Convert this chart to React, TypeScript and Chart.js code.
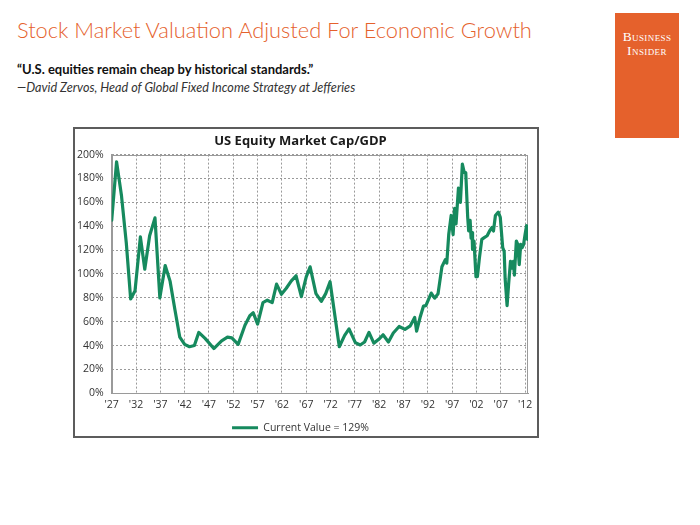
import React, { useEffect, useRef } from "react";
import { Chart, registerables } from "chart.js";

Chart.register(...registerables);

// Year (decimal) of each reading
const years = [
  1927, 1928, 1929, 1930, 1930.9, 1931.8, 1932.9, 1933.8, 1934.8, 1935.9,
  1936.9, 1938, 1939, 1940, 1941, 1942, 1943, 1944, 1944.9, 1946.2,
  1948, 1949.6, 1950.8, 1951.7, 1953, 1954.4, 1955.4, 1956.1, 1957, 1958.1,
  1959, 1960, 1960.9, 1961.9, 1962.9, 1963.9, 1964.9, 1966, 1967, 1967.8,
  1969, 1970.1, 1971, 1971.9, 1973.8, 1974.9, 1975.8, 1977.1, 1978.1, 1979,
  1979.9, 1980.9, 1982.1, 1982.8, 1983.9, 1984.9, 1986.1, 1987.3, 1988.4, 1989.3,
  1989.7, 1990.4, 1991.1, 1991.6, 1992.7, 1993.4, 1994.1, 1994.9, 1995.6, 1995.9,
  1996.3, 1996.8, 1997.2, 1997.5, 1997.8, 1998.3, 1998.7, 1999.1, 1999.5, 1999.8,
  2000.2, 2000.4, 2000.7, 2000.9, 2001.1, 2001.2, 2001.5, 2001.9, 2002.2, 2002.6,
  2003.1, 2003.6, 2004.2, 2004.7, 2005.2, 2005.5, 2005.9, 2006.2, 2006.5, 2006.9,
  2007.4, 2007.7, 2007.9, 2008.3, 2008.6, 2009.0, 2009.3, 2009.6, 2009.8, 2010.2,
  2010.5, 2010.8, 2011.1, 2011.4, 2011.7, 2012.0, 2012.3, 2012.5,
];

// US equity market cap / GDP, percent
const values = [
  145, 194, 166, 126, 79, 86, 131, 104, 132, 147,
  80, 107, 94, 70, 47, 41, 39, 40, 51, 46,
  37.5, 44, 47, 46.5, 41, 57, 65, 67.5, 58, 76,
  78, 76, 91.5, 83, 88, 94, 98.5, 81, 97.5, 106,
  83.5, 77, 83.5, 93.5, 39, 48.5, 54, 42.5, 40.5, 43,
  51, 42, 46, 49, 43, 50.5, 56, 53.5, 56.5, 63.5,
  52, 63.5, 73, 73.5, 84, 79.7, 83.4, 106, 112, 109,
  133, 149, 133, 155, 142, 172, 160, 192, 185, 185,
  147.5, 136, 145, 130, 134.7, 120.5, 127.6, 97.7, 97.7, 113,
  129, 130.4, 132, 136, 139, 136, 149, 150.4, 151.8, 147.5,
  122, 119, 96, 73.5, 90.6, 110.5, 104.8, 110.5, 99, 127.6,
  124.8, 107.7, 124.8, 122, 124.8, 133, 140.4, 129,
];

const tickYears = [
  1927, 1932, 1937, 1942, 1947, 1952, 1957, 1962, 1967, 1972,
  1977, 1982, 1987, 1992, 1997, 2002, 2007, 2012,
];
const yTicks = [0, 20, 40, 60, 80, 100, 120, 140, 160, 180, 200];

const seriesLabel = "Current Value = 129%";
const chartTitle = "US Equity Market Cap/GDP";

const GREEN = "#168A5E";
const ORANGE = "#E5612C";
const GRID = "#9a9a9a";
const FONT = "'Open Sans', 'Noto Sans', sans-serif";

export default function App() {
  const ref = useRef<HTMLCanvasElement>(null);

  useEffect(() => {
    const canvas = ref.current;
    if (!canvas) return;
    const plotBorder = {
      id: "plotBorder",
      beforeDatasetsDraw(chart: any) {
        const { ctx, chartArea: a } = chart;
        ctx.save();
        ctx.strokeStyle = GRID;
        ctx.lineWidth = 1;
        ctx.setLineDash([]);
        ctx.strokeRect(
          Math.round(a.left) + 0.5,
          Math.round(a.top) + 0.5,
          Math.round(a.right - a.left) - 1,
          Math.round(a.bottom - a.top) - 1
        );
        ctx.restore();
      },
    };
    const chart = new Chart(canvas, {
      type: "line",
      data: {
        datasets: [
          {
            label: seriesLabel,
            data: years.map((x, i) => ({ x, y: values[i] })),
            borderColor: GREEN,
            backgroundColor: GREEN,
            borderWidth: 3.2,
            pointRadius: 0,
            tension: 0,
            borderJoinStyle: "round",
            borderCapStyle: "round",
          },
        ],
      },
      options: {
        responsive: false,
        animation: false,
        devicePixelRatio: 1,
        layout: { padding: { left: 0, right: 11, top: 0, bottom: 7 } },
        plugins: {
          title: {
            display: true,
            text: chartTitle,
            color: "#1a1a1a",
            font: { family: FONT, size: 13, weight: "bold" },
            padding: { top: 6, bottom: 6 },
          },
          legend: {
            position: "bottom",
            labels: {
              usePointStyle: true,
              pointStyle: "line",
              pointStyleWidth: 26,
              color: "#333",
              font: { family: FONT, size: 10.5 },
              padding: 4,
            },
          },
          tooltip: { enabled: false },
        },
        scales: {
          x: {
            type: "linear",
            min: 1927,
            max: 2012.6,
            afterBuildTicks: (axis: any) => {
              axis.ticks = tickYears.map((v) => ({ value: v }));
            },
            afterFit: (axis: any) => {
              axis.height = 25.2;
            },
            grid: { color: GRID, lineWidth: 1, drawTicks: false },
            border: { display: true, color: GRID, dash: [2, 2] },
            ticks: {
              padding: 5,
              color: "#333",
              autoSkip: false,
              maxRotation: 0,
              font: { family: FONT, size: 10.5 },
              callback: (v: any) => "'" + String(v).slice(2),
            },
          },
          y: {
            min: 0,
            max: 200,
            afterBuildTicks: (axis: any) => {
              axis.ticks = yTicks.map((v) => ({ value: v }));
            },
            afterFit: (axis: any) => {
              axis.width = 38.7;
            },
            grid: { color: GRID, lineWidth: 1, drawTicks: false },
            border: { display: true, color: GRID, dash: [2, 2] },
            ticks: {
              padding: 8,
              color: "#333",
              font: { family: FONT, size: 10.5 },
              callback: (v: any) => v + "%",
            },
          },
        },
      },
      plugins: [plotBorder],
    } as any);
    return () => chart.destroy();
  }, []);

  return (
    <div
      style={{
        position: "fixed",
        left: 0,
        top: 0,
        width: 700,
        height: 525,
        background: "#fff",
        overflow: "hidden",
      }}
    >
      <div
        style={{
          position: "absolute",
          left: 17,
          top: 17,
          fontFamily: "Lato, 'Open Sans', sans-serif",
          fontWeight: 300,
          fontSize: 21.8,
          color: ORANGE,
          whiteSpace: "nowrap",
          lineHeight: "26px",
        }}
      >
        Stock Market Valuation Adjusted For Economic Growth
      </div>
      <div
        style={{
          position: "absolute",
          left: 17,
          top: 62,
          fontFamily: "Lato, 'Open Sans', sans-serif",
          fontWeight: 700,
          fontSize: 13,
          color: "#111",
          whiteSpace: "nowrap",
          lineHeight: "15px",
        }}
      >
        “U.S. equities remain cheap by historical standards.”
      </div>
      <div
        style={{
          position: "absolute",
          left: 17,
          top: 80,
          fontFamily: "Lato, 'Open Sans', sans-serif",
          fontStyle: "italic",
          fontSize: 12.6,
          color: "#333",
          whiteSpace: "nowrap",
          lineHeight: "15px",
        }}
      >
        —David Zervos, Head of Global Fixed Income Strategy at Jefferies
      </div>
      <div
        style={{
          position: "absolute",
          left: 615,
          top: 13,
          width: 64,
          height: 125,
          background: ORANGE,
          color: "#fff",
          fontFamily: "'Liberation Serif', 'DejaVu Serif', serif",
          fontVariant: "small-caps",
          fontSize: 13.5,
          lineHeight: "14px",
          textAlign: "center",
          paddingTop: 17,
          boxSizing: "border-box",
          letterSpacing: 0.4,
        }}
      >
        <div>Business</div>
        <div>Insider</div>
      </div>
      <div
        style={{
          position: "absolute",
          left: 73,
          top: 127,
          width: 466,
          height: 311,
          border: "2px solid #5c5c5c",
          boxSizing: "border-box",
        }}
      />
      <canvas
        ref={ref}
        width={466}
        height={323}
        style={{
          position: "absolute",
          left: 73,
          top: 127,
          width: 466,
          height: 323,
          display: "block",
        }}
      />
    </div>
  );
}
